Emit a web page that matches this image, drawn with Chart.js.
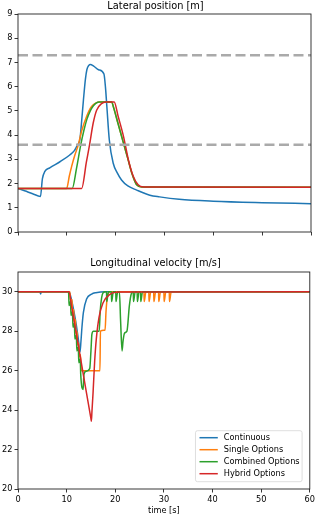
<!DOCTYPE html>
<html>
<head>
<meta charset="utf-8">
<script src="https://cdn.jsdelivr.net/npm/chart.js@4/dist/chart.umd.min.js"></script>
<style>
  body { margin: 0; background: #fff; }
  canvas { position: absolute; left: 0; }
  #lat { top: 0; }
  #vel { top: 250px; }
</style>
</head>
<body>
<canvas id="lat" width="317" height="250" style="width:317px;height:250px"></canvas>
<canvas id="vel" width="317" height="267" style="width:317px;height:267px"></canvas>
<script>
// series names
const seriesNames = ['Continuous', 'Single Options', 'Combined Options', 'Hybrid Options'];
const seriesColors = ['#1f77b4', '#ff7f0e', '#2ca02c', '#d62728'];

// lane boundaries (dashed)
const laneX = [0, 60];
const laneLines = [3.6, 7.3];

// lateral position [m]
const contLatT = [0, 1.5, 3, 4.6, 5.0, 5.5, 6.5, 8.6, 10.6, 11.5, 12.0, 12.4, 12.7, 13.0, 13.4, 13.8, 14.1, 14.5, 14.8, 15.5, 16.5, 17.6, 17.9, 18.2, 18.7, 19.5, 20.3, 21.2, 22.5, 24.3, 27, 29, 33, 40, 50, 60];
const contLatY = [1.80, 1.69, 1.58, 1.47, 2.2, 2.5, 2.65, 2.9, 3.18, 3.35, 3.52, 3.65, 3.85, 4.5, 5.45, 6.3, 6.7, 6.88, 6.92, 6.85, 6.7, 6.52, 6.0, 5.17, 3.8, 2.84, 2.45, 2.15, 1.9, 1.73, 1.52, 1.45, 1.35, 1.27, 1.21, 1.17];

const singleLatT = [0, 9.97, 10.5, 11.0, 11.6, 12.35, 13.0, 14.1, 14.8, 15.4, 16.0, 16.6, 19.2, 19.5, 20.5, 21.6, 22.5, 23.3, 24.3, 25.3, 60];
const singleLatY = [1.8, 1.8, 2.3, 2.72, 3.15, 3.6, 4.15, 4.8, 5.1, 5.25, 5.33, 5.37, 5.37, 5.19, 4.47, 3.67, 3.02, 2.44, 1.95, 1.86, 1.85];

const combLatT = [0, 11.1, 12.0, 12.85, 13.5, 14.1, 14.8, 15.4, 16.0, 16.6, 19.2, 19.5, 20.5, 21.6, 22.5, 23.3, 24.3, 25.3, 60];
const combLatY = [1.8, 1.8, 2.65, 3.6, 4.2, 4.65, 5.0, 5.2, 5.32, 5.37, 5.37, 5.19, 4.47, 3.67, 3.02, 2.44, 1.95, 1.86, 1.85];

const hybLatT = [0, 13.04, 14.0, 14.65, 15.4, 16.1, 17.1, 18.0, 19.7, 20.5, 21.6, 22.6, 23.6, 24.6, 25.7, 60];
const hybLatY = [1.8, 1.8, 2.88, 3.6, 4.5, 5.03, 5.3, 5.37, 5.37, 4.78, 3.95, 2.99, 2.30, 1.95, 1.86, 1.85];

// longitudinal velocity [m/s]
const contVelT = [0, 4.5, 4.65, 4.8, 10.5, 11.0, 11.5, 12.0, 12.4, 12.75, 12.95, 13.15, 13.45, 14.1, 15.15, 16.0, 18, 60];
const contVelY = [30, 30, 29.88, 30, 30, 29.6, 29.0, 28.3, 27.6, 26.95, 27.5, 28.2, 28.95, 29.63, 29.88, 29.95, 30, 30];

const singleVelT = [0, 10.65, 10.85, 11.1, 11.2, 11.45, 11.55, 11.8, 11.9, 12.15, 12.25, 12.5, 12.6, 12.85, 13.0, 16.85, 16.95, 17.9, 18.1, 18.35, 18.6, 18.8,
  25.9, 25.95, 26.3, 26.9, 26.95, 27.3, 27.9, 27.95, 28.3, 28.9, 28.95, 29.3, 30.0, 30.05, 30.4, 31.1, 31.15, 31.5, 60];
const singleVelY = [30, 30, 29.5, 29.6, 29.0, 29.1, 28.5, 28.6, 27.9, 28.0, 27.3, 27.4, 26.7, 26.8, 26.0, 26.0, 28.0, 28.05, 29.0, 29.7, 29.95, 30,
  30, 29.5, 30, 30, 29.5, 30, 30, 29.5, 30, 30, 29.5, 30, 30, 29.5, 30, 30, 29.5, 30, 30];

const combVelT = [0, 10.4, 10.5, 10.8, 10.9, 11.2, 11.3, 11.6, 11.7, 12.0, 12.1, 12.4, 12.5, 12.8, 12.9, 13.4, 13.55, 14.0, 14.75, 15.0, 15.2, 15.5, 16.7, 16.9, 17.2, 17.5,
  18.0, 18.2, 18.25, 18.6, 19.2, 19.25, 19.6, 20.1, 20.15, 20.5, 20.85, 21.1, 21.4, 21.6, 21.9, 22.4, 22.9, 23.3,
  23.7, 23.75, 24.1, 24.5, 24.55, 24.9, 25.2, 25.25, 25.6, 60];
const combVelY = [30, 30, 29.3, 29.5, 28.8, 29.0, 28.2, 28.4, 27.6, 27.8, 27.0, 27.2, 26.4, 26.6, 25.8, 25.05, 25.8, 25.97, 26.1, 27.0, 27.85, 28.0, 28.0, 29.0, 29.7, 29.95,
  30, 30, 29.5, 30, 30, 29.5, 30, 30, 29.5, 30, 30, 28.5, 27.0, 27.5, 27.9, 28.0, 29.3, 29.9,
  30, 29.5, 30, 30, 29.5, 30, 30, 29.5, 30, 30];

const hybVelT = [0, 10.5, 11.0, 12.0, 13.0, 14.0, 15.0, 15.09, 15.2, 15.43, 15.77, 16.1, 16.66, 17.47, 18.84, 20.9, 60];
const hybVelY = [30, 30, 29.29, 27.86, 26.43, 24.99, 23.57, 23.44, 23.9, 24.86, 26.5, 27.6, 28.7, 29.43, 29.85, 29.98, 30];

const pts = (t, v) => t.map((x, i) => ({ x: x, y: v[i] }));
const FONT = 'DejaVu Sans';

const frame = {
  id: 'frame',
  afterDatasetsDraw(chart) {
    const a = chart.chartArea, ctx = chart.ctx;
    ctx.save();
    ctx.strokeStyle = '#222';
    ctx.lineWidth = 0.9;
    ctx.strokeRect(a.left, a.top, a.right - a.left, a.bottom - a.top);
    ctx.restore();
  }
};

const boxLegend = {
  id: 'boxLegend',
  afterDraw(chart) {
    const a = chart.chartArea, ctx = chart.ctx;
    const w = 106.6, h = 51;
    const x = a.right - 7.7 - w, y = a.bottom - 7.3 - h;
    ctx.save();
    ctx.fillStyle = 'rgba(255,255,255,0.8)';
    ctx.strokeStyle = '#d5d5d5';
    ctx.lineWidth = 0.8;
    ctx.beginPath();
    ctx.roundRect(x, y, w, h, 2);
    ctx.fill();
    ctx.stroke();
    ctx.font = '8.2px "' + FONT + '"';
    ctx.textBaseline = 'middle';
    chart.data.datasets.forEach((ds, i) => {
      const cy = y + 7 + i * 12;
      ctx.strokeStyle = ds.borderColor;
      ctx.lineWidth = 1.5;
      ctx.beginPath();
      ctx.moveTo(x + 4, cy);
      ctx.lineTo(x + 22.3, cy);
      ctx.stroke();
      ctx.fillStyle = '#000';
      ctx.fillText(ds.label, x + 28.3, cy);
    });
    ctx.restore();
  }
};

function line(i, t, v) {
  return {
    label: seriesNames[i],
    data: pts(t, v),
    borderColor: seriesColors[i],
    borderWidth: 1.5,
    pointRadius: 0,
    fill: false,
    cubicInterpolationMode: 'monotone',
    order: 4 - i
  };
}

function xAxis(labels) {
  return {
    type: 'linear', min: 0, max: 60,
    afterFit: s => { s.height = labels ? 28 : 18; },
    grid: { drawOnChartArea: false, color: '#222', lineWidth: 0.9, tickLength: 3.5 },
    border: { display: false },
    ticks: { display: labels, stepSize: 10, padding: 2, color: '#000', maxRotation: 0, font: { family: FONT, size: 8.2 } },
    title: { display: labels, text: 'time [s]', color: '#000', font: { family: FONT, size: 8.2 }, padding: { top: 0, bottom: 1.5 } }
  };
}

function yAxis(min, max, step) {
  return {
    type: 'linear', min: min, max: max,
    afterFit: s => { s.width = 18; },
    grid: { drawOnChartArea: false, color: '#222', lineWidth: 0.9, tickLength: 3.5 },
    border: { display: false },
    ticks: { stepSize: step, includeBounds: false, padding: 2, color: '#000', font: { family: FONT, size: 8.2 } }
  };
}

function title(text, top, bottom) {
  return { display: true, text: text, color: '#000', font: { family: FONT, size: 9.8, weight: 'normal' }, padding: { top: top, bottom: bottom } };
}

new Chart(document.getElementById('lat'), {
  type: 'line',
  data: {
    datasets: [
      line(0, contLatT, contLatY),
      line(1, singleLatT, singleLatY),
      line(2, combLatT, combLatY),
      line(3, hybLatT, hybLatY)
    ].concat(laneLines.map(v => ({
      data: laneX.map(x => ({ x: x, y: v })),
      borderColor: '#aaaaaa',
      borderWidth: 2.5,
      borderDash: [10, 4.5],
      pointRadius: 0,
      fill: false,
      order: 0
    })))
  },
  options: {
    responsive: false,
    animation: false,
    layout: { padding: { left: 0, right: 6, top: 0, bottom: 0 } },
    scales: { x: xAxis(false), y: yAxis(0, 9, 1) },
    plugins: { legend: { display: false }, tooltip: { enabled: false }, title: title('Lateral position [m]', 0.5, 1.74) }
  },
  plugins: [frame]
});

new Chart(document.getElementById('vel'), {
  type: 'line',
  data: {
    datasets: [
      line(0, contVelT, contVelY),
      line(1, singleVelT, singleVelY),
      line(2, combVelT, combVelY),
      line(3, hybVelT, hybVelY)
    ]
  },
  options: {
    responsive: false,
    animation: false,
    layout: { padding: { left: 0, right: 6, top: 0, bottom: 0 } },
    scales: { x: xAxis(true), y: yAxis(20, 31, 2) },
    plugins: { legend: { display: false }, tooltip: { enabled: false }, title: title('Longitudinal velocity [m/s]', 7.5, 2.74) }
  },
  plugins: [frame, boxLegend]
});
</script>
</body>
</html>
